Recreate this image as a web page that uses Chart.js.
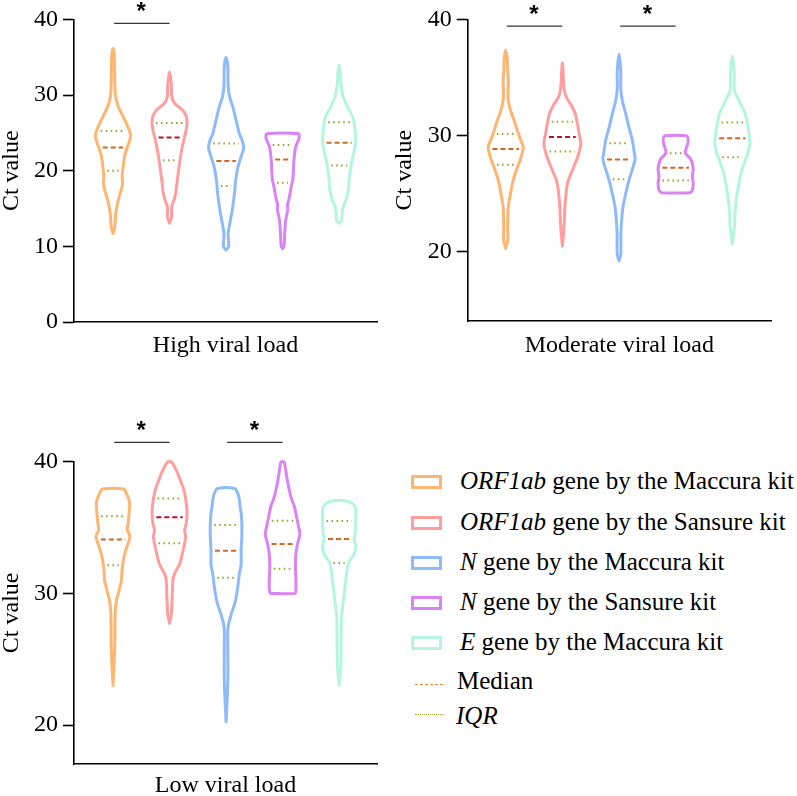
<!DOCTYPE html>
<html><head><meta charset="utf-8">
<script src="https://cdn.jsdelivr.net/npm/chart.js@4.4.1/dist/chart.umd.min.js"></script>
<style>
html,body{margin:0;padding:0;background:#fff;width:797px;height:796px;overflow:hidden;position:relative;font-family:'Liberation Serif','Times New Roman',Times,serif;}
canvas{position:absolute;}
.sw{position:absolute;left:411px;width:25px;height:8px;border:3px solid;}
.lt{position:absolute;left:460px;font-size:25px;line-height:24px;white-space:nowrap;color:#000;font-family:'Liberation Serif','Times New Roman',Times,serif;}
.ll{position:absolute;left:415px;width:28px;height:0;border-top:1px dashed;}
</style></head>
<body>
<canvas id="c1" width="395" height="365" style="left:0;top:0"></canvas>
<canvas id="c2" width="404" height="365" style="left:393px;top:0"></canvas>
<canvas id="c3" width="395" height="400" style="left:0;top:400px"></canvas>
<div id="legend"></div>
<script>
// ---------- DATA ----------
const categories = ['ORF1ab gene by the Maccura kit','ORF1ab gene by the Sansure kit','N gene by the Maccura kit','N gene by the Sansure kit','E gene by the Maccura kit'];
const categoryItalic = ['ORF1ab','ORF1ab','N','N','E'];
const panelTitles = ['High viral load','Moderate viral load','Low viral load'];

const highTicks = [0,10,20,30,40];
const modTicks = [20,30,40];
const lowTicks = [20,30,40];

// medians and interquartile bounds (Ct)
const highMedian = [23.06, 24.4, 21.3, 21.5, 23.7];
const highQ1 = [20.0, 21.4, 18.0, 18.4, 20.7];
const highQ3 = [25.26, 26.3, 23.6, 23.4, 26.4];
const modMedian = [28.86, 29.89, 27.94, 27.23, 29.77];
const modQ1 = [27.49, 28.63, 26.26, 26.14, 28.14];
const modQ3 = [30.15, 31.2, 29.34, 28.49, 31.14];
const lowMedian = [34.1, 35.79, 33.24, 33.74, 34.12];
const lowQ1 = [32.13, 33.8, 31.19, 31.87, 32.3];
const lowQ3 = [35.85, 37.2, 35.19, 35.51, 35.49];

// violin outlines: [Ct value, relative density]
const highOrfMaccura = [[11.7,0],[12.6,0.1],[14.4,0.16],[16.1,0.3],[17.3,0.45],[18.4,0.55],[19.3,0.52],[20.5,0.58],[21.9,0.66],[23.0,0.8],[24.0,0.95],[24.8,1.0],[25.8,0.85],[27.2,0.57],[28.5,0.3],[29.8,0.15],[31.6,0.1],[33.8,0.09],[35.5,0.06],[36.2,0]];
const highOrfSansure = [[13.05,0],[13.9,0.12],[15.2,0.12],[16.1,0.25],[17.0,0.35],[18.3,0.42],[20.1,0.52],[21.9,0.63],[23.2,0.73],[24.5,0.86],[25.4,0.95],[26.3,1.0],[27.2,0.95],[28.0,0.75],[28.9,0.3],[29.8,0.13],[31.5,0.1],[33.1,0]];
const highNMaccura = [[9.5,0],[10.0,0.15],[11.7,0.12],[13.5,0.25],[15.2,0.38],[17.0,0.48],[18.8,0.55],[20.5,0.68],[21.9,0.86],[23.0,1.0],[24.0,0.92],[24.9,0.76],[26.7,0.57],[28.5,0.38],[29.8,0.2],[31.2,0.12],[33.8,0.1],[35.0,0]];
const highNSansure = [[9.7,0],[10.0,0.08],[11.7,0.12],[13.5,0.18],[14.9,0.3],[15.5,0.28],[16.1,0.35],[17.3,0.45],[18.0,0.5],[18.8,0.58],[20.0,0.62],[21.5,0.65],[23.2,0.75],[24.1,0.92],[24.5,0.95],[24.9,0.9]];
const highEMaccura = [[13.05,0],[13.5,0.15],[14.9,0.19],[16.1,0.38],[17.5,0.53],[18.8,0.57],[20.5,0.67],[21.3,0.73],[22.6,0.86],[23.8,0.95],[24.9,0.92],[26.3,0.86],[27.2,0.76],[28.5,0.47],[29.8,0.23],[31.6,0.1],[33.0,0.07],[34.0,0]];

const modOrfMaccura = [[20.3,0],[21.0,0.12],[22.2,0.11],[23.9,0.15],[25.0,0.27],[25.9,0.38],[26.7,0.53],[27.3,0.67],[27.8,0.8],[28.4,0.92],[29.0,1.0],[29.6,0.86],[30.4,0.67],[31.3,0.48],[32.1,0.29],[33.0,0.15],[33.8,0.13],[34.8,0.15],[35.8,0.1],[36.6,0.09],[37.34,0]];
const modOrfSansure = [[20.5,0],[22.3,0.1],[24.0,0.15],[25.9,0.29],[26.7,0.48],[27.6,0.73],[28.4,0.92],[29.3,1.05],[30.2,0.95],[31.0,0.86],[31.9,0.73],[32.7,0.48],[33.3,0.23],[34.0,0.1],[36.28,0]];
const modNMaccura = [[19.23,0],[19.8,0.1],[21.6,0.11],[22.7,0.15],[23.9,0.23],[25.0,0.38],[26.2,0.57],[27.3,0.8],[28.0,0.92],[28.4,0.88],[29.6,0.76],[30.7,0.57],[31.9,0.38],[33.0,0.19],[34.0,0.1],[35.5,0.1],[37.0,0]];
const modNSansure = [[25.09,0.8],[25.3,0.95],[25.9,1.0],[26.5,0.95],[27.06,1.0],[27.6,0.95],[28.0,0.85],[28.5,0.55],[28.9,0.6],[29.4,0.7],[29.8,0.7],[30.0,0.6]];
const modEMaccura = [[20.66,0],[22.2,0.12],[23.3,0.15],[24.5,0.23],[25.6,0.34],[26.7,0.48],[27.6,0.67],[28.4,0.86],[29.3,1.0],[30.2,0.95],[31.0,0.86],[31.9,0.73],[32.7,0.48],[33.3,0.29],[33.9,0.12],[35.5,0.1],[36.86,0]];

const lowOrfMaccura = [[23.0,0],[25.9,0.1],[28.4,0.12],[29.4,0.19],[30.2,0.34],[31.0,0.48],[32.0,0.53],[33.0,0.67],[33.8,0.86],[34.3,0.97],[34.8,0.82],[35.3,0.86],[36.1,0.92],[36.9,0.95],[37.6,0.76],[37.92,0.6]];
const lowOrfSansure = [[27.72,0],[28.4,0.1],[29.7,0.15],[31.0,0.19],[31.5,0.29],[32.2,0.57],[33.0,0.73],[33.8,0.86],[34.3,0.92],[34.8,0.86],[35.3,0.95],[36.1,1.0],[36.9,0.95],[37.6,0.86],[38.1,0.76],[38.6,0.61],[39.1,0.47],[39.6,0.29],[40.0,0.1]];
const lowNMaccura = [[20.25,0],[23.3,0.1],[25.9,0.1],[27.4,0.11],[28.4,0.29],[29.4,0.53],[30.5,0.67],[31.5,0.76],[32.2,0.86],[33.3,0.86],[34.3,0.9],[35.3,0.9],[36.1,0.86],[36.6,0.8],[37.1,0.76],[37.6,0.67],[37.97,0.48]];
const lowNSansure = [[30.0,0.7],[30.3,0.76],[31.0,0.76],[32.0,0.73],[33.0,0.76],[33.8,0.86],[34.5,0.99],[35.0,0.92],[35.8,0.8],[36.6,0.67],[37.3,0.48],[38.1,0.34],[38.9,0.23],[39.6,0.15],[40.0,0.08]];
const lowEMaccura = [[23.04,0],[24.6,0.1],[27.1,0.12],[28.4,0.15],[29.7,0.27],[31.0,0.38],[32.0,0.48],[32.4,0.57],[33.0,0.86],[33.6,0.95],[34.1,0.86],[34.6,0.92],[35.6,0.95],[36.6,0.9],[37.0,0.48]];

// significant pairs (category indices)
const highSig = [[0,1]];
const modSig = [[0,1],[2,3]];
const lowSig = [[0,1],[2,3]];

// ---------- STYLE ----------
const SERIF = "'Liberation Serif','Times New Roman',Times,serif";
const violinColors = ['#ffb572','#ff9e9e','#8ebbf7','#da83f2','#b3f5df'];
const medianColors = ['#d2691e','#b8121e','#d2691e','#d2691e','#d2691e'];
const iqrColor = '#9da52b';
const VHALF = 0.31;      // x-units for density 1
const STAR_OFFSET = 16.7; // px above bracket

function violinPoints(c, prof) {
  const left = prof.map(([v,d]) => ({x: c - d*VHALF, y: v}));
  const right = prof.slice().reverse().map(([v,d]) => ({x: c + d*VHALF, y: v}));
  if (prof[prof.length-1][1] === 0) right.shift();
  const pts = left.concat(right);
  if (prof[0][1] !== 0) pts.push(left[0]);
  return pts;
}
function densityAt(prof, v) {
  for (let i = 0; i < prof.length-1; i++) {
    const [v0,d0] = prof[i], [v1,d1] = prof[i+1];
    if (v >= v0 && v <= v1) return d0 + (d1-d0)*(v-v0)/(v1-v0);
  }
  return 0;
}

const starPlugin = {
  id: 'stars',
  afterDatasetsDraw(chart, args, opts) {
    const {ctx, scales: {x, y}} = chart;
    ctx.save();
    ctx.font = 'bold 24px "Liberation Sans", Arial, sans-serif';
    ctx.fillStyle = '#000';
    ctx.textAlign = 'center';
    ctx.textBaseline = 'alphabetic';
    const m = ctx.measureText('*');
    const off = (m.actualBoundingBoxAscent - m.actualBoundingBoxDescent) / 2;
    (opts.pairs || []).forEach(([a,b]) => {
      const px = x.getPixelForValue((a+b)/2);
      const py = y.getPixelForValue(opts.level) - STAR_OFFSET;
      ctx.fillText('*', px, py + off);
    });
    ctx.restore();
  }
};

function buildPanel(id, p) {
  const datasets = [];
  p.profiles.forEach((prof, i) => {
    datasets.push({data: violinPoints(i, prof), showLine: true, borderColor: violinColors[i], borderWidth: 3,
      pointRadius: 0, tension: 0.3, fill: false, clip: false, borderJoinStyle: 'round', borderCapStyle: 'round'});
  });
  p.profiles.forEach((prof, i) => {
    const lines = [[p.q1[i], iqrColor, [1.6,3.4]], [p.q3[i], iqrColor, [1.6,3.4]], [p.median[i], medianColors[i], [5,3]]];
    lines.forEach(([v, col, dash]) => {
      const h = Math.max(0.04, densityAt(prof, v)*VHALF - 0.07);
      datasets.push({data: [{x: i-h, y: v}, {x: i+h, y: v}], showLine: true, borderColor: col, borderWidth: 2,
        borderDash: dash, pointRadius: 0, clip: false});
    });
  });
  p.sig.forEach(([a,b]) => {
    datasets.push({data: [{x: a+0.02, y: p.sigLevel}, {x: b, y: p.sigLevel}], showLine: true, borderColor: '#333',
      borderWidth: 1.2, pointRadius: 0, clip: false});
  });
  new Chart(document.getElementById(id), {
    type: 'scatter',
    data: {datasets},
    options: {
      responsive: false, animation: false, events: [],
      layout: {padding: {left: 0, top: p.padTop, right: p.padRight, bottom: 0}},
      plugins: {legend: {display: false}, tooltip: {enabled: false}, stars: {pairs: p.sig, level: p.sigLevel}},
      scales: {
        x: {type: 'linear', min: p.xMin, max: p.xMax,
          ticks: {display: false}, grid: {display: false},
          border: {display: true, color: '#000', width: 1.6},
          afterFit: s => { s.height = p.xHeight; },
          title: {display: true, text: p.title, color: '#000', font: {family: SERIF, size: 24}, padding: {top: 0, bottom: p.titlePad}}
        },
        y: {type: 'linear', min: p.yMin, max: p.yMax,
          afterBuildTicks: s => { s.ticks = p.ticks.map(v => ({value: v})); },
          afterFit: s => { s.width = p.yWidth; },
          ticks: {color: '#000', font: {family: SERIF, size: 24}, padding: 5},
          grid: {display: true, drawOnChartArea: false, drawTicks: true, tickLength: 11, tickWidth: 1.6, tickColor: '#000'},
          border: {display: true, color: '#000', width: 1.6},
          title: {display: true, text: 'Ct value', color: '#000', font: {family: SERIF, size: 24, lineHeight: 0.94}, padding: 0}
        }
      }
    },
    plugins: [starPlugin]
  });
}

buildPanel('c1', {title: panelTitles[0], ticks: highTicks, yMin: 0, yMax: 40, xMin: -0.69, xMax: 4.67,
  padTop: 19.5, padRight: 18, xHeight: 43, yWidth: 74, titlePad: 4.6,
  profiles: [highOrfMaccura, highOrfSansure, highNMaccura, highNSansure, highEMaccura],
  median: highMedian, q1: highQ1, q3: highQ3, sig: highSig, sigLevel: 39.5});
buildPanel('c2', {title: panelTitles[1], ticks: modTicks, yMin: 14.06, yMax: 40, xMin: -0.671, xMax: 4.683,
  padTop: 18.3, padRight: 26, xHeight: 44, yWidth: 74.7, titlePad: 4.6,
  profiles: [modOrfMaccura, modOrfSansure, modNMaccura, modNSansure, modEMaccura],
  median: modMedian, q1: modQ1, q3: modQ3, sig: modSig, sigLevel: 39.43});
buildPanel('c3', {title: panelTitles[2], ticks: lowTicks, yMin: 17.04, yMax: 40, xMin: -0.69, xMax: 4.67,
  padTop: 61.7, padRight: 18, xHeight: 36, yWidth: 74, titlePad: 0,
  profiles: [lowOrfMaccura, lowOrfSansure, lowNMaccura, lowNSansure, lowEMaccura],
  median: lowMedian, q1: lowQ1, q3: lowQ3, sig: lowSig, sigLevel: 41.47});

// ---------- LEGEND ----------
const legend = document.getElementById('legend');
const rowBaselines = [489.5, 530.5, 570.5, 610.5, 650.5];
const TEXT_TOP = 20.4;
categories.forEach((cat, i) => {
  const sw = document.createElement('div');
  sw.className = 'sw';
  sw.style.top = (rowBaselines[i] - 8 - 7) + 'px';
  sw.style.borderColor = violinColors[i];
  legend.appendChild(sw);
  const t = document.createElement('div');
  t.className = 'lt';
  t.style.top = (rowBaselines[i] - TEXT_TOP) + 'px';
  const it = categoryItalic[i];
  t.innerHTML = '<i>' + it + '</i>' + cat.slice(it.length);
  legend.appendChild(t);
});
const medLine = document.createElement('div');
medLine.className = 'll'; medLine.style.top = '684px'; medLine.style.borderTopColor = '#f08a3c';
legend.appendChild(medLine);
const medText = document.createElement('div');
medText.className = 'lt'; medText.style.left = '457px'; medText.style.top = (689.5 - TEXT_TOP) + 'px';
medText.textContent = 'Median';
legend.appendChild(medText);
const iqrLine = document.createElement('div');
iqrLine.className = 'll'; iqrLine.style.top = '714px'; iqrLine.style.borderTop = '1px dotted ' + iqrColor;
legend.appendChild(iqrLine);
const iqrText = document.createElement('div');
iqrText.className = 'lt'; iqrText.style.left = '456px'; iqrText.style.top = (724.5 - TEXT_TOP) + 'px';
iqrText.innerHTML = '<i>IQR</i>';
legend.appendChild(iqrText);
</script>
</body></html>
